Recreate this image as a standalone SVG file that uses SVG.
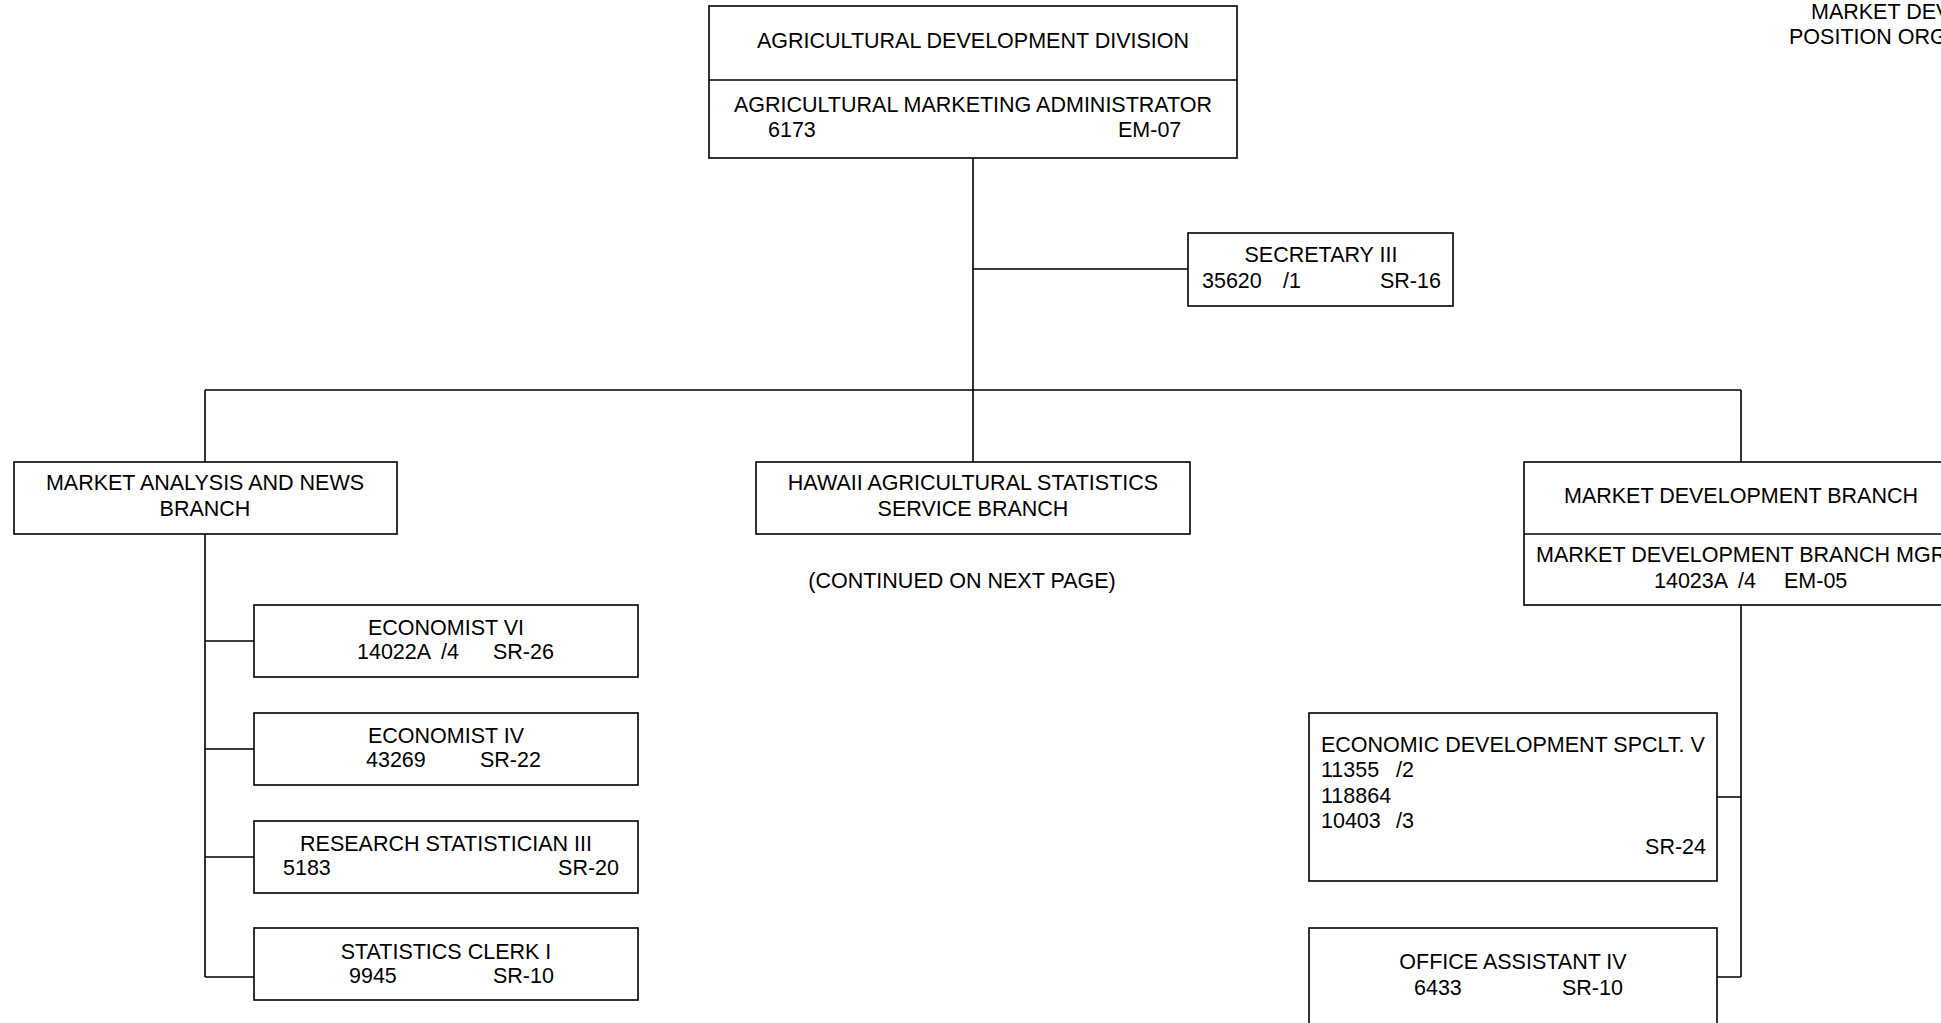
<svg xmlns="http://www.w3.org/2000/svg" width="1941" height="1023" viewBox="0 0 1941 1023">
<style>
.box{fill:#fff;stroke:#000;stroke-width:1.6}
.ln{fill:none;stroke:#000;stroke-width:1.6}
text{font-family:"Liberation Sans",Arial,sans-serif;font-size:21.5px;fill:#000}
.c{text-anchor:middle}
.e{text-anchor:end}
</style>
<rect width="1941" height="1023" fill="#fff"/>
<g id="connectors">
<path class="ln" d="M973 158V462M973 269H1188M205 390H1741M205 390V462M1741 390V462M205 534V977M205 641H254M205 749H254M205 857H254M205 977H254M1741 605V977M1741 797H1717M1741 977H1717"/>
</g>
<g id="title">
<text x="1811" y="19">MARKET DEV</text>
<text x="1789" y="44">POSITION ORG</text>
</g>
<g id="division">
<rect class="box" x="709" y="6" width="528" height="152"/>
<line class="ln" x1="709" y1="80" x2="1237" y2="80"/>
<text class="c" x="973" y="48">AGRICULTURAL DEVELOPMENT DIVISION</text>
<text class="c" x="973" y="112">AGRICULTURAL MARKETING ADMINISTRATOR</text>
<text x="768" y="137">6173</text>
<text x="1118" y="137">EM-07</text>
</g>
<g id="secretary">
<rect class="box" x="1188" y="233" width="265" height="73"/>
<text class="c" x="1321" y="262">SECRETARY III</text>
<text x="1202" y="288">35620</text>
<text x="1283" y="288">/1</text>
<text x="1380" y="288">SR-16</text>
</g>
<g id="market-analysis">
<rect class="box" x="14" y="462" width="383" height="72"/>
<text class="c" x="205" y="490">MARKET ANALYSIS AND NEWS</text>
<text class="c" x="205" y="516">BRANCH</text>
</g>
<g id="hawaii">
<rect class="box" x="756" y="462" width="434" height="72"/>
<text class="c" x="973" y="490">HAWAII AGRICULTURAL STATISTICS</text>
<text class="c" x="973" y="516">SERVICE BRANCH</text>
<text class="c" x="962" y="588">(CONTINUED ON NEXT PAGE)</text>
</g>
<g id="market-development">
<rect class="box" x="1524" y="462" width="440" height="143"/>
<line class="ln" x1="1524" y1="534" x2="1964" y2="534"/>
<text class="c" x="1741" y="503">MARKET DEVELOPMENT BRANCH</text>
<text x="1536" y="562">MARKET DEVELOPMENT BRANCH MGR</text>
<text x="1654" y="588">14023A</text>
<text x="1738" y="588">/4</text>
<text x="1784" y="588">EM-05</text>
</g>
<g id="economist-vi">
<rect class="box" x="254" y="605" width="384" height="72"/>
<text class="c" x="446" y="635">ECONOMIST VI</text>
<text x="357" y="659">14022A</text>
<text x="441" y="659">/4</text>
<text x="493" y="659">SR-26</text>
</g>
<g id="economist-iv">
<rect class="box" x="254" y="713" width="384" height="72"/>
<text class="c" x="446" y="743">ECONOMIST IV</text>
<text x="366" y="767">43269</text>
<text x="480" y="767">SR-22</text>
</g>
<g id="research-statistician">
<rect class="box" x="254" y="821" width="384" height="72"/>
<text class="c" x="446" y="851">RESEARCH STATISTICIAN III</text>
<text x="283" y="875">5183</text>
<text class="e" x="619" y="875">SR-20</text>
</g>
<g id="statistics-clerk">
<rect class="box" x="254" y="928" width="384" height="72"/>
<text class="c" x="446" y="959">STATISTICS CLERK I</text>
<text x="349" y="983">9945</text>
<text x="493" y="983">SR-10</text>
</g>
<g id="economic-development">
<rect class="box" x="1309" y="713" width="408" height="168"/>
<text x="1321" y="752">ECONOMIC DEVELOPMENT SPCLT. V</text>
<text x="1321" y="777">11355</text>
<text x="1396" y="777">/2</text>
<text x="1321" y="803">118864</text>
<text x="1321" y="828">10403</text>
<text x="1396" y="828">/3</text>
<text class="e" x="1706" y="854">SR-24</text>
</g>
<g id="office-assistant">
<rect class="box" x="1309" y="928" width="408" height="130"/>
<text class="c" x="1513" y="969">OFFICE ASSISTANT IV</text>
<text x="1414" y="995">6433</text>
<text x="1562" y="995">SR-10</text>
</g>
</svg>
